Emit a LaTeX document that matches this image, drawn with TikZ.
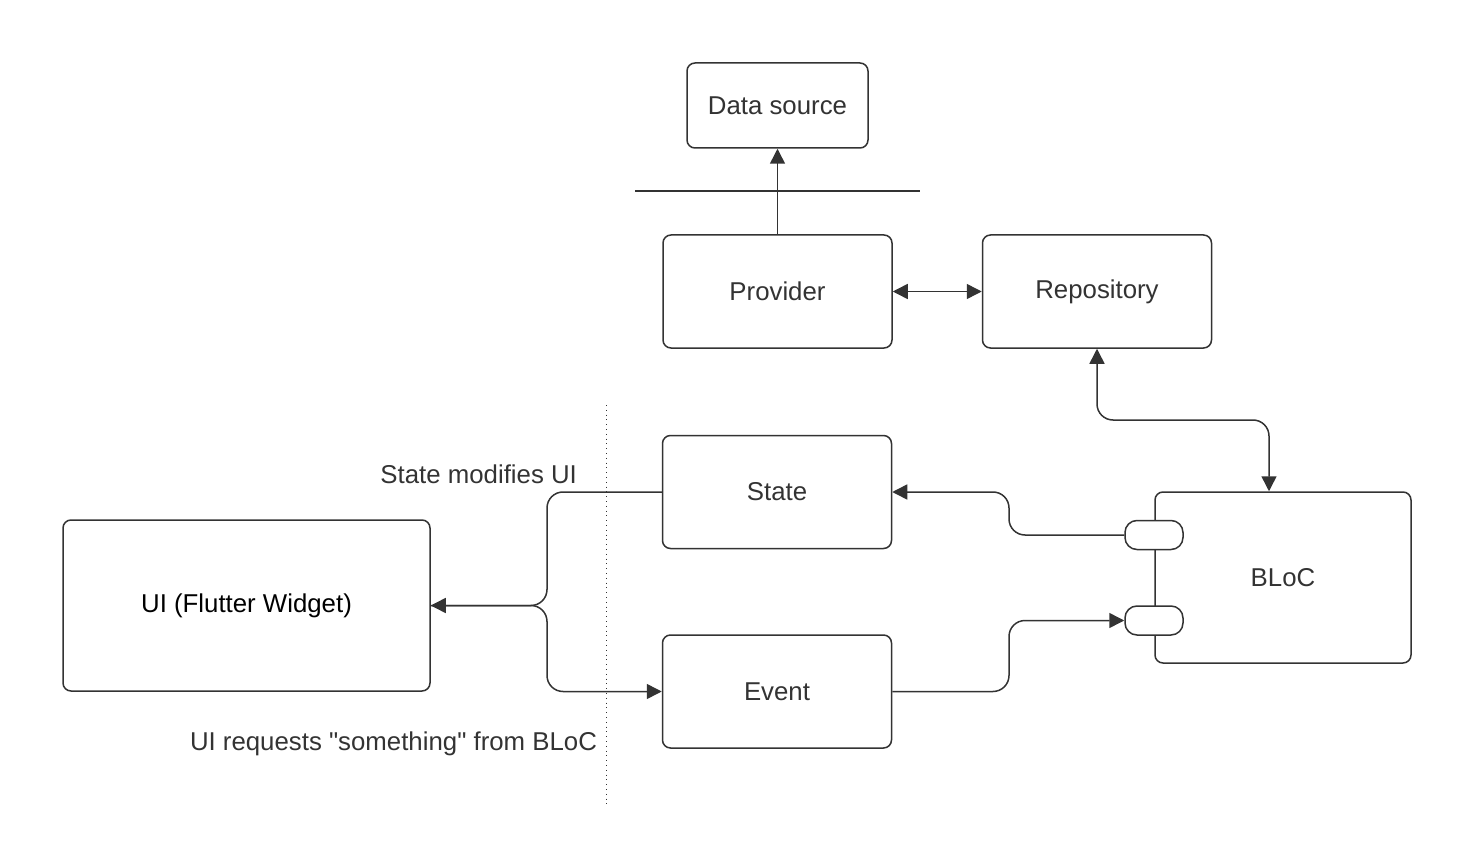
\documentclass[tikz,border=0pt]{standalone}
\usepackage{fontspec}
\setmainfont{Liberation Sans}[Ligatures=TeXOff]
\usetikzlibrary{arrows.meta,positioning}
\definecolor{ink}{HTML}{333333}

\begin{document}
\begin{tikzpicture}[x=0.5pt,y=-0.5pt,>={Triangle[length=7.5pt,width=7.5pt]},
  every node/.style={text=ink,font=\fontsize{12.9}{15}\selectfont},
  block/.style={draw=ink,line width=0.75pt,rounded corners=4pt,minimum width=114.5pt,minimum height=56.5pt},
  port/.style={draw=ink,fill=white,line width=0.75pt,rounded corners=6pt,minimum width=29pt,minimum height=14.5pt,inner sep=0pt},
  link/.style={draw=ink,line width=0.75pt,rounded corners=8pt}]

\useasboundingbox (0,0) rectangle (1480,856);

\node[block,minimum width=90.5pt,minimum height=42.5pt] (src) at (777.5,105.5) {Data source};
\node[block] (prov) at (777.5,291.5) {Provider};
\node[block] (repo) at (1097,291.5) {Repository};
\node[block] (state) at (777,492) {State};
\node[block] (event) at (777,691.5) {Event};
\node[block,minimum width=183.5pt,minimum height=85.5pt,text=black] (ui) at (246.5,605.5) {UI (Flutter Widget)};
\node[block,minimum width=128pt,minimum height=85.5pt] (bloc) at (1283,577.5) {BLoC};
\node[port] (pout) at (1154,535) {};
\node[port] (pin) at (1154,620.5) {};

\coordinate (fork) at (547,605.5);

% layer boundaries
\draw[ink,line width=0.75pt] (635,191) -- (920,191);
\draw[ink,dotted] (606,405) -- (606,805);

\node[anchor=east] (lstate) at (584,474) {State modifies UI};
\node[anchor=east] (levent) at (604,744) {UI requests "something" from BLoC};

\draw[link,->] (prov) -- (src);
\draw[link,<->] (prov) -- (repo);
\draw[link,<->] (repo.south) |- (1183,420) -| ([xshift=-7pt]bloc.north);
\draw[link,->] (pout.west) -- (1009,535) |- (state.east);
\draw[link,->] (event.east) -| (1009,620.5) -- (pin.west);
\draw[link,->] (state.west) -| (fork) -- (ui.east);
\draw[link,->] (ui.east) -- (fork) |- (event.west);

\end{tikzpicture}
\end{document}
